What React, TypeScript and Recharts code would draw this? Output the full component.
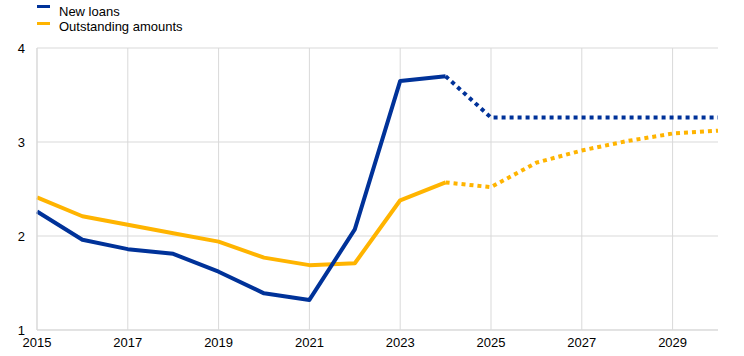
import React from 'react';
import { LineChart, Line, XAxis, YAxis, CartesianGrid } from 'recharts';

const years = [2015, 2016, 2017, 2018, 2019, 2020, 2021, 2022, 2023, 2024, 2025, 2026, 2027, 2028, 2029, 2030];
// new loans: actual to 2024, projection from 2024
const newLoans = [2.26, 1.96, 1.86, 1.81, 1.62, 1.39, 1.32, 2.07, 3.65, 3.70, null, null, null, null, null, null];
const newLoansProj = [null, null, null, null, null, null, null, null, null, 3.70, 3.26, 3.26, 3.26, 3.26, 3.26, 3.26];
const outstanding = [2.41, 2.21, 2.12, 2.03, 1.94, 1.77, 1.69, 1.71, 2.38, 2.57, null, null, null, null, null, null];
const outstandingProj = [null, null, null, null, null, null, null, null, null, 2.57, 2.52, 2.78, 2.91, 3.01, 3.09, 3.12];
const xTicks = [2015, 2017, 2019, 2021, 2023, 2025, 2027, 2029];
const yTicks = [1, 2, 3, 4];

const BLUE = '#003299';
const YELLOW = '#ffb400';
const GRID = '#d9d9d9';
const FONT = '"Liberation Sans", Arial, sans-serif';

const rows = years.map((y, i) => ({
  year: y,
  newLoans: newLoans[i],
  newLoansProj: newLoansProj[i],
  outstanding: outstanding[i],
  outstandingProj: outstandingProj[i],
}));

const legendItems = [
  { label: 'New loans', color: BLUE, markTop: 5, textTop: 4 },
  { label: 'Outstanding amounts', color: YELLOW, markTop: 22, textTop: 19 },
];

export default function App() {
  return (
    <div style={{ position: 'absolute', left: 0, top: 0, width: 744, height: 356, background: '#fff', fontFamily: FONT }}>
      {legendItems.map((it) => (
        <React.Fragment key={it.label}>
          <div style={{ position: 'absolute', left: 37, top: it.markTop, width: 13, height: 3, background: it.color }} />
          <div style={{ position: 'absolute', left: 59, top: it.textTop, fontSize: 13, lineHeight: '15px', color: '#000', whiteSpace: 'nowrap' }}>
            {it.label}
          </div>
        </React.Fragment>
      ))}
      <LineChart width={744} height={356} data={rows} margin={{ top: 48, right: 26, left: 0, bottom: 0 }}>
        <CartesianGrid stroke={GRID} strokeWidth={1} horizontalValues={yTicks} verticalValues={xTicks} />
        <XAxis
          dataKey="year"
          type="number"
          domain={[2015, 2030]}
          ticks={xTicks}
          interval={0}
          height={26}
          tickLine={false}
          axisLine={{ stroke: GRID }}
          tick={{ fill: '#000', fontSize: 13, fontFamily: FONT }}
          tickMargin={2}
        />
        <YAxis
          type="number"
          domain={[1, 4]}
          ticks={yTicks}
          width={37}
          tickLine={false}
          axisLine={{ stroke: GRID }}
          tick={{ fill: '#000', fontSize: 13, fontFamily: FONT }}
          tickMargin={6}
        />
        <Line dataKey="outstanding" stroke={YELLOW} strokeWidth={4} dot={false} isAnimationActive={false} strokeLinejoin="round" />
        <Line dataKey="outstandingProj" stroke={YELLOW} strokeWidth={4} strokeDasharray="4 4" dot={false} isAnimationActive={false} strokeLinecap="butt" />
        <Line dataKey="newLoans" stroke={BLUE} strokeWidth={4} dot={false} isAnimationActive={false} strokeLinejoin="round" />
        <Line dataKey="newLoansProj" stroke={BLUE} strokeWidth={4} strokeDasharray="4 4" dot={false} isAnimationActive={false} strokeLinecap="butt" />
      </LineChart>
    </div>
  );
}
